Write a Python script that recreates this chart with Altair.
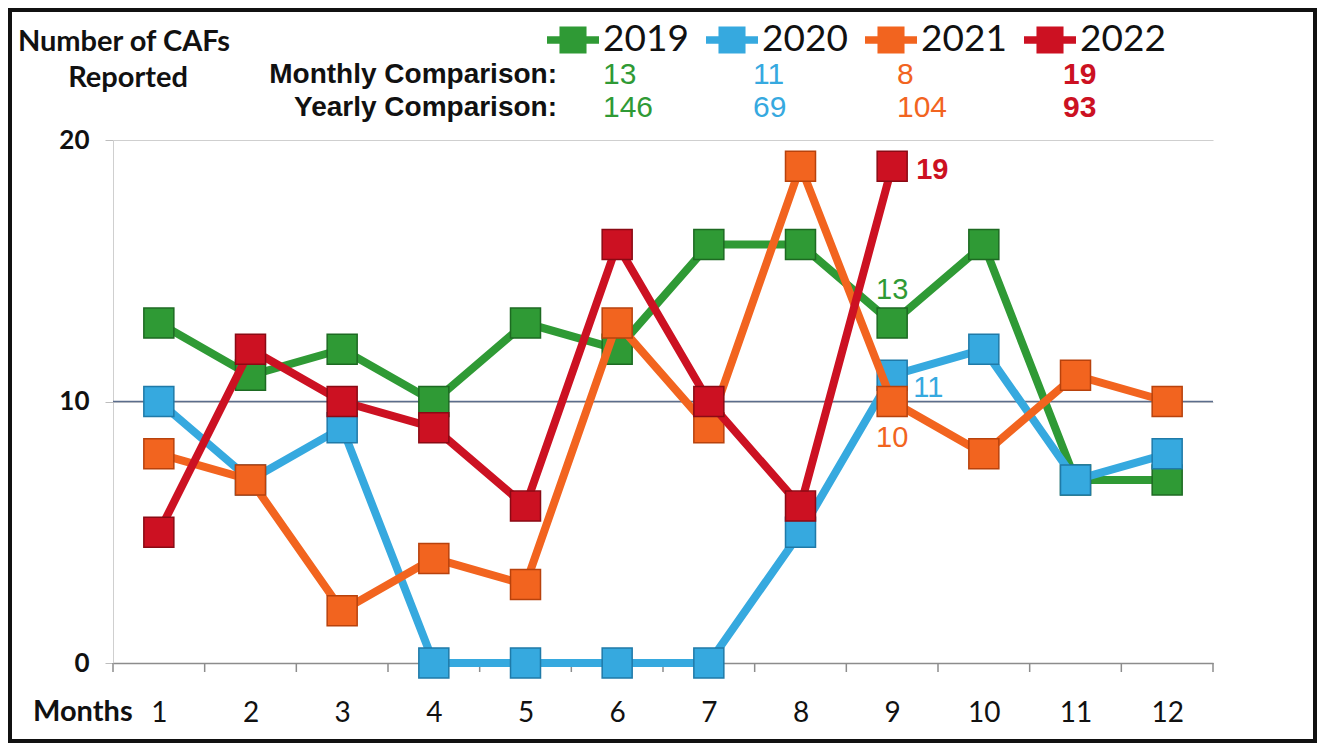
import altair as alt
import pandas as pd

months = list(range(1, 13))
years = ["2019", "2020", "2021", "2022"]
v2019 = [13, 11, 12, 10, 13, 12, 16, 16, 13, 16, 7, 7]
v2020 = [10, 7, 9, 0, 0, 0, 0, 5, 11, 12, 7, 8]
v2021 = [8, 7, 2, 4, 3, 13, 9, 19, 10, 8, 11, 10]
v2022 = [5, 12, 10, 9, 6, 16, 10, 6, 19]
monthly_cmp = [13, 11, 8, 19]
yearly_cmp = [146, 69, 104, 93]
y_ticks = [0, 10, 20]

colors = ["#2f9a35", "#36a9df", "#f2641f", "#cc1122"]
edges = ["#1d6a22", "#1f7aa8", "#b8420c", "#8a0a14"]
series = dict(zip(years, [v2019, v2020, v2021, v2022]))

rows = []
for yr in years:
    for m, v in zip(months, series[yr]):
        rows.append({"Month": m, "Count": v, "Year": yr})
df = pd.DataFrame(rows)

W, H = 1100, 523
xscale = alt.Scale(domain=[0.5, 12.5], nice=False, zero=False)
yscale = alt.Scale(domain=[0, 20], nice=False)
cscale = alt.Scale(domain=years, range=colors)
one = alt.Data(values=[{}])

legend_path = ("M-1,-0.14L1,-0.14L1,0.14L-1,0.14Z "
               "M-0.52,-0.52L0.52,-0.52L0.52,0.52L-0.52,0.52Z")

xaxis = alt.Axis(values=months, format="d", title=None, ticks=False, grid=False,
                 domainColor="#8c8c8c", domainWidth=1.5,
                 labelFont="Lato", labelFontSize=28, labelColor="#111",
                 labelPadding=36)
yaxis = alt.Axis(values=y_ticks, format="d", title=None, grid=True, gridColor="#cfcfcf",
                 domainColor="#cfcfcf", tickColor="#bdbdbd", tickSize=8,
                 labelFont="Lato", labelFontWeight="bold", labelFontSize=26,
                 labelColor="#111", labelPadding=16)

layers = []

# outer frame
layers.append(alt.Chart(one).mark_rect(fill=None, stroke="#111", strokeWidth=4).encode(
    x=alt.value(-103), x2=alt.value(1202), y=alt.value(-130), y2=alt.value(601)))

# base axes
layers.append(alt.Chart(df).mark_point(opacity=0).encode(
    x=alt.X("Month:Q", scale=xscale, axis=xaxis),
    y=alt.Y("Count:Q", scale=yscale, axis=yaxis)))

# highlighted 10 line
layers.append(alt.Chart(one).mark_rule(color="#5b6d8c", strokeWidth=1.5).encode(
    y=alt.datum(10, scale=yscale), x=alt.value(0), x2=alt.value(W)))

# x tick marks at month boundaries
bounds = pd.DataFrame({"b": [m - 0.5 for m in months] + [months[-1] + 0.5]})
layers.append(alt.Chart(bounds).mark_rule(color="#8c8c8c", strokeWidth=1.5).encode(
    x=alt.X("b:Q", scale=xscale), y=alt.value(H), y2=alt.value(H + 9)))

for yr, col, ed in zip(years, colors, edges):
    base = alt.Chart(df).transform_filter(alt.datum.Year == yr)
    layers.append(base.mark_line(strokeWidth=8, color=col).encode(
        x=alt.X("Month:Q", scale=xscale),
        y=alt.Y("Count:Q", scale=yscale)))
    layers.append(base.mark_point(shape="square", filled=True, size=900, opacity=1,
                                  stroke=ed, strokeWidth=1.5).encode(
        x=alt.X("Month:Q", scale=xscale),
        y=alt.Y("Count:Q", scale=yscale),
        color=alt.Color("Year:N", scale=cscale, legend=alt.Legend(
            orient="none", legendX=434, legendY=-126, direction="horizontal",
            title=None, symbolType=legend_path, symbolSize=2704,
            symbolStrokeWidth=0, symbolOpacity=1, labelFont="Lato",
            labelFontSize=37, labelColor="#111", labelOffset=4,
            columnPadding=17))))

# data labels at month 9
def dlabel(val, text, col, dx, dy, align, weight="normal"):
    return alt.Chart(one).mark_text(text=text, color=col, fontSize=29, dx=dx, dy=dy,
                                    align=align, baseline="middle", font="Liberation Sans",
                                    fontWeight=weight).encode(
        x=alt.datum(9, scale=xscale), y=alt.datum(val, scale=yscale))

layers.append(dlabel(v2019[8], str(v2019[8]), colors[0], 0, -33, "center"))
layers.append(dlabel(v2020[8], str(v2020[8]), colors[1], 21, 13, "left"))
layers.append(dlabel(v2021[8], str(v2021[8]), colors[2], 0, 36, "center"))
layers.append(dlabel(v2022[8], str(v2022[8]), colors[3], 24, 4, "left", "bold"))

# header texts
def htext(text, x, y, align, size, font, weight="bold", col="#111"):
    return alt.Chart(one).mark_text(text=text, align=align, baseline="middle",
                                    fontSize=size, font=font, fontWeight=weight,
                                    color=col).encode(x=alt.value(x), y=alt.value(y))

layers.append(htext("Number of CAFs", 11, -98, "center", 29, "Lato"))
layers.append(htext("Reported", 15, -62, "center", 29, "Lato"))
layers.append(htext("Monthly Comparison:", 444, -65, "right", 28, "Liberation Sans"))
layers.append(htext("Yearly Comparison:", 444, -32, "right", 28, "Liberation Sans"))
layers.append(htext("Months", -80, 572, "left", 29, "Lato"))

col_x = [490, 640, 784, 950]
for i in range(4):
    w = "bold" if i == 3 else "normal"
    layers.append(htext(str(monthly_cmp[i]), col_x[i], -65, "left", 30,
                        "Liberation Sans", w, colors[i]))
    layers.append(htext(str(yearly_cmp[i]), col_x[i], -32, "left", 30,
                        "Liberation Sans", w, colors[i]))

chart = alt.layer(*layers).properties(
    width=W, height=H,
    autosize=alt.AutoSizeParams(type="none"),
    padding={"left": 105, "top": 132, "right": 104, "bottom": 80},
    background="white",
).configure_view(stroke=None)

chart.save("out.html", embed_options={"renderer": "svg", "actions": False})
